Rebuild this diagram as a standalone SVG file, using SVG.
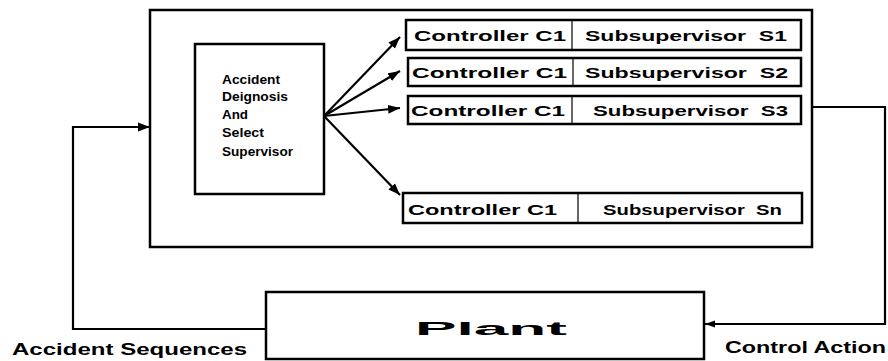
<svg xmlns="http://www.w3.org/2000/svg" width="888" height="361" viewBox="0 0 888 361">
  <style>
    .box { fill: #fff; stroke: #000; stroke-width: 2.5; }
    .thin { stroke: #000; stroke-width: 1.2; }
    .t { font-family: "Liberation Sans", Arial, sans-serif; font-weight: bold; fill: #000; }
    .wire { fill: none; stroke: #000; stroke-width: 2.2; }
  </style>
  <defs>
    <marker id="arrow" markerUnits="userSpaceOnUse" markerWidth="14" markerHeight="10" refX="12" refY="5" orient="auto">
      <path d="M0,0.5 L12,5 L0,9.5 Z" fill="#000"/>
    </marker>
    <marker id="arrowSmall" markerUnits="userSpaceOnUse" markerWidth="12" markerHeight="8" refX="10" refY="4" orient="auto">
      <path d="M0,0.5 L10,4 L0,7.5 Z" fill="#000"/>
    </marker>
  </defs>
  <rect width="888" height="361" fill="#fff"/>

  <!-- supervisory system enclosure -->
  <g id="system">
    <rect class="box" x="150" y="10" width="662" height="237"/>
  </g>

  <g id="supervisor">
    <rect class="box" x="195" y="44" width="129" height="150"/>
    <text class="t" font-size="12" x="222" y="84" textLength="58" lengthAdjust="spacingAndGlyphs">Accident</text>
    <text class="t" font-size="12" x="222" y="101" textLength="66" lengthAdjust="spacingAndGlyphs">Deignosis</text>
    <text class="t" font-size="12" x="222" y="119" textLength="26" lengthAdjust="spacingAndGlyphs">And</text>
    <text class="t" font-size="12" x="222" y="137" textLength="42" lengthAdjust="spacingAndGlyphs">Select</text>
    <text class="t" font-size="12" x="222" y="156" textLength="71" lengthAdjust="spacingAndGlyphs">Supervisor</text>
  </g>

  <g id="sub1">
    <rect class="box" x="406" y="20" width="395" height="30"/>
    <line class="thin" x1="572" y1="20" x2="572" y2="50"/>
    <text class="t" font-size="15" x="414" y="41" textLength="152" lengthAdjust="spacingAndGlyphs">Controller C1</text>
    <text class="t" font-size="15" x="585" y="41" textLength="202" lengthAdjust="spacingAndGlyphs" xml:space="preserve">Subsupervisor  S1</text>
  </g>

  <g id="sub2">
    <rect class="box" x="408" y="58" width="393" height="28"/>
    <line class="thin" x1="573" y1="58" x2="573" y2="86"/>
    <text class="t" font-size="15" x="412" y="78" textLength="155" lengthAdjust="spacingAndGlyphs">Controller C1</text>
    <text class="t" font-size="15" x="585" y="78" textLength="203" lengthAdjust="spacingAndGlyphs" xml:space="preserve">Subsupervisor  S2</text>
  </g>

  <g id="sub3">
    <rect class="box" x="408" y="96" width="393" height="28"/>
    <line class="thin" x1="572" y1="96" x2="572" y2="124"/>
    <text class="t" font-size="15" x="411" y="116" textLength="154" lengthAdjust="spacingAndGlyphs">Controller C1</text>
    <text class="t" font-size="15" x="593" y="116" textLength="195" lengthAdjust="spacingAndGlyphs" xml:space="preserve">Subsupervisor  S3</text>
  </g>

  <g id="subN">
    <rect class="box" x="403" y="193" width="399" height="30"/>
    <line class="thin" x1="578" y1="193" x2="578" y2="223"/>
    <text class="t" font-size="15" x="408" y="215" textLength="149" lengthAdjust="spacingAndGlyphs">Controller C1</text>
    <text class="t" font-size="15" x="603" y="215" textLength="179" lengthAdjust="spacingAndGlyphs" xml:space="preserve">Subsupervisor  Sn</text>
  </g>

  <g id="plant">
    <rect class="box" x="266" y="292" width="438" height="67" stroke-width="2"/>
    <text class="t" font-size="18" x="415" y="335" textLength="152" lengthAdjust="spacingAndGlyphs">Plant</text>
  </g>

  <g id="labels">
    <text class="t" font-size="17" x="12" y="355" textLength="235" lengthAdjust="spacingAndGlyphs">Accident Sequences</text>
    <text class="t" font-size="16" x="725" y="353" textLength="161" lengthAdjust="spacingAndGlyphs">Control Action</text>
  </g>

  <!-- signal flow -->
  <g id="connectors">
    <line class="wire" x1="324" y1="116" x2="400" y2="37" marker-end="url(#arrow)"/>
    <line class="wire" x1="324" y1="116" x2="400" y2="71" marker-end="url(#arrow)"/>
    <line class="wire" x1="324" y1="116" x2="400" y2="108" marker-end="url(#arrow)"/>
    <line class="wire" x1="324" y1="116" x2="400" y2="195" marker-end="url(#arrow)"/>
    <polyline class="wire" points="266,329 73,329 73,127 150,127" marker-end="url(#arrow)"/>
    <polyline class="wire" points="812,107 885,107 885,324 705,324" marker-end="url(#arrowSmall)"/>
  </g>
</svg>
